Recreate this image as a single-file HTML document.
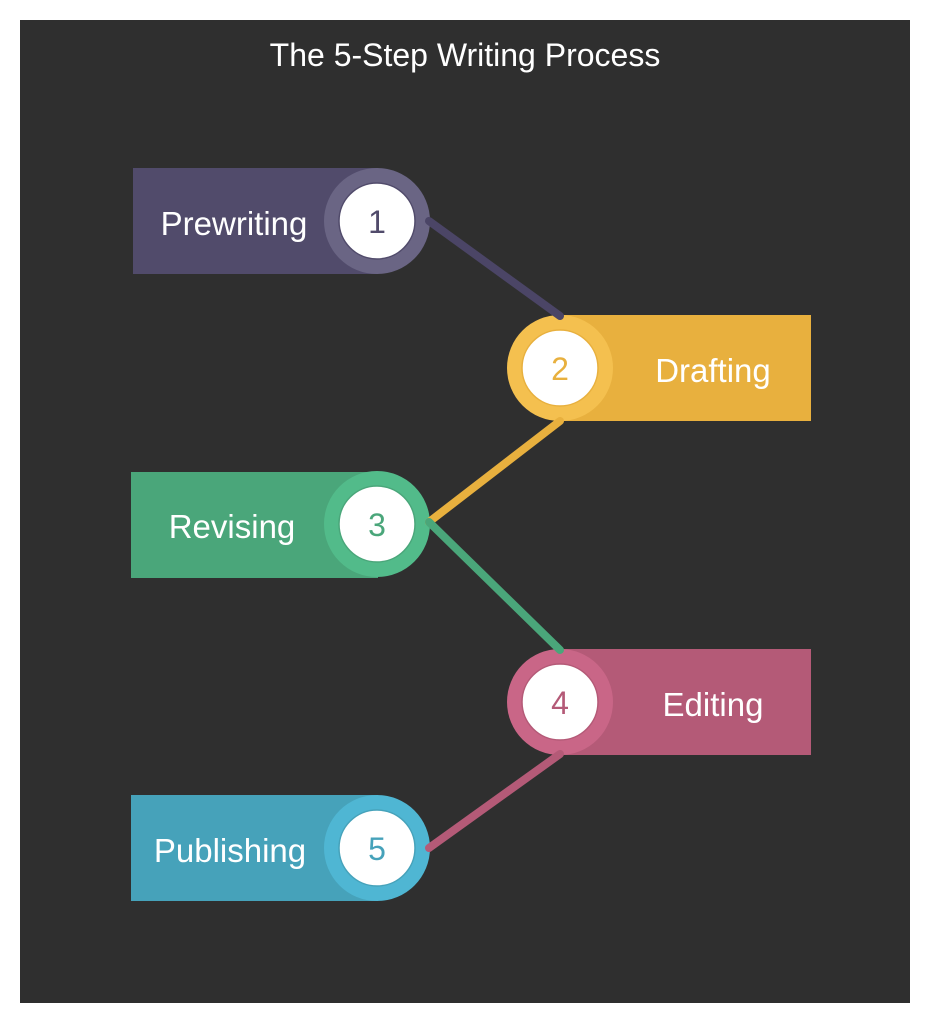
<!DOCTYPE html>
<html><head><meta charset="utf-8"><style>
html,body{margin:0;padding:0;background:#fff;}
svg{display:block}
text{font-family:"Liberation Sans",sans-serif;}
</style></head><body>
<svg width="930" height="1024" viewBox="0 0 930 1024">
<rect x="20" y="20" width="890" height="983" fill="#2f2f2f"/>
<text x="465" y="66" font-size="32" fill="#fff" text-anchor="middle">The 5-Step Writing Process</text>

<!-- 1 -->
<rect x="133" y="168" width="245" height="106" fill="#514b6b"/>
<circle cx="377" cy="221" r="53" fill="#6a6584"/>
<circle cx="377" cy="221" r="38" fill="#fff" stroke="#514b6b" stroke-width="1.5"/>
<text x="234" y="235" font-size="33" fill="#fff" text-anchor="middle">Prewriting</text>
<text x="377" y="233" font-size="32" fill="#514b6b" text-anchor="middle">1</text>

<!-- 2 -->
<rect x="560" y="315" width="251" height="106" fill="#e8b03e"/>
<circle cx="560" cy="368" r="53" fill="#f4c04f"/>
<circle cx="560" cy="368" r="38" fill="#fff" stroke="#e8b03e" stroke-width="1.5"/>
<text x="713" y="382" font-size="33" fill="#fff" text-anchor="middle">Drafting</text>
<text x="560" y="380" font-size="32" fill="#e8b03e" text-anchor="middle">2</text>

<!-- 3 -->
<rect x="131" y="472" width="247" height="106" fill="#4aa67a"/>
<circle cx="377" cy="524" r="53" fill="#52bb8a"/>
<circle cx="377" cy="524" r="38" fill="#fff" stroke="#4aa67a" stroke-width="1.5"/>
<text x="232" y="538" font-size="33" fill="#fff" text-anchor="middle">Revising</text>
<text x="377" y="536" font-size="32" fill="#4aa67a" text-anchor="middle">3</text>

<!-- 4 -->
<rect x="560" y="649" width="251" height="106" fill="#b45a77"/>
<circle cx="560" cy="702" r="53" fill="#c96687"/>
<circle cx="560" cy="702" r="38" fill="#fff" stroke="#b45a77" stroke-width="1.5"/>
<text x="713" y="716" font-size="33" fill="#fff" text-anchor="middle">Editing</text>
<text x="560" y="714" font-size="32" fill="#b45a77" text-anchor="middle">4</text>

<!-- 5 -->
<rect x="131" y="795" width="247" height="106" fill="#46a2ba"/>
<circle cx="377" cy="848" r="53" fill="#4fb6d3"/>
<circle cx="377" cy="848" r="38" fill="#fff" stroke="#46a2ba" stroke-width="1.5"/>
<text x="230" y="862" font-size="33" fill="#fff" text-anchor="middle">Publishing</text>
<text x="377" y="860" font-size="32" fill="#46a2ba" text-anchor="middle">5</text>

<!-- connectors -->
<g stroke-width="8" stroke-linecap="round" fill="none">
<line x1="429" y1="221" x2="560" y2="316" stroke="#4b4566"/>
<line x1="560" y1="421" x2="429" y2="522" stroke="#e8b03e"/>
<line x1="429" y1="522" x2="560" y2="650" stroke="#4aa67a"/>
<line x1="560" y1="754" x2="429" y2="848" stroke="#b45a77"/>
</g>
</svg>
</body></html>
